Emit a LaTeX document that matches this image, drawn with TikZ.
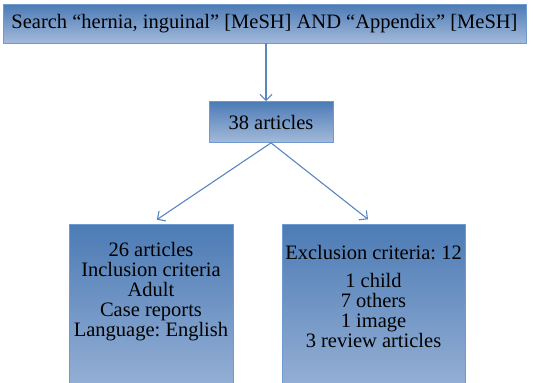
\documentclass[tikz,border=0pt]{standalone}
\usepackage{fontspec}
\setmainfont{Liberation Serif}
\usetikzlibrary{arrows.meta}
\frenchspacing

\definecolor{boxtop}{HTML}{4C7BB5}
\definecolor{boxbot}{HTML}{A3BADB}
\definecolor{boxline}{HTML}{6F9AD0}
\definecolor{arrline}{HTML}{5A86BE}

\begin{document}
\begin{tikzpicture}[x=1pt, y=-1pt,
    box/.style={draw=boxline, line width=0.8pt, top color=boxtop, bottom color=boxbot,
      inner sep=0pt, font=\fontsize{20.5}{20}\selectfont},
    boxtext/.style={inner sep=0pt, align=center, anchor=north, font=\fontsize{20.5}{20}\selectfont},
    flow/.style={draw=arrline, line width=1.1pt, -{Straight Barb[length=6pt, width=12pt]}}]
  \useasboundingbox (0,0) rectangle (533,383);
  \clip (0,0) rectangle (533,383);
  %% search and count
  \node[box, minimum width=523, minimum height=39] (search) at (264.5,23.5)
    {Search “hernia, inguinal” [MeSH] AND “Appendix” [MeSH]};
  \node[box, minimum width=124, minimum height=41] (arts) at (271,122) {38 articles};
  %% the two result boxes, cut off at the bottom
  \node[box, minimum width=164, minimum height=196] (incl) at (151,322) {};
  \node[box, minimum width=183, minimum height=196] (excl) at (373.5,322) {};
  \node[boxtext] (incltext) at (151,242.5)
    {26 articles\\Inclusion criteria\\Adult\\Case reports\\Language: English};
  \node[boxtext] (excltext) at (373.5,245.5)
    {Exclusion criteria: 12\\[8pt]1 child\\7 others\\1 image\\3 review articles};
  %% connectors
  \draw[flow] (search.south -| 266,0) -- (266,0 |- arts.north);
  \draw[flow, shorten >=7pt] (arts.south) -- (incl.north);
  \draw[flow, shorten >=7pt] (arts.south) -- (excl.north);
\end{tikzpicture}
\end{document}
